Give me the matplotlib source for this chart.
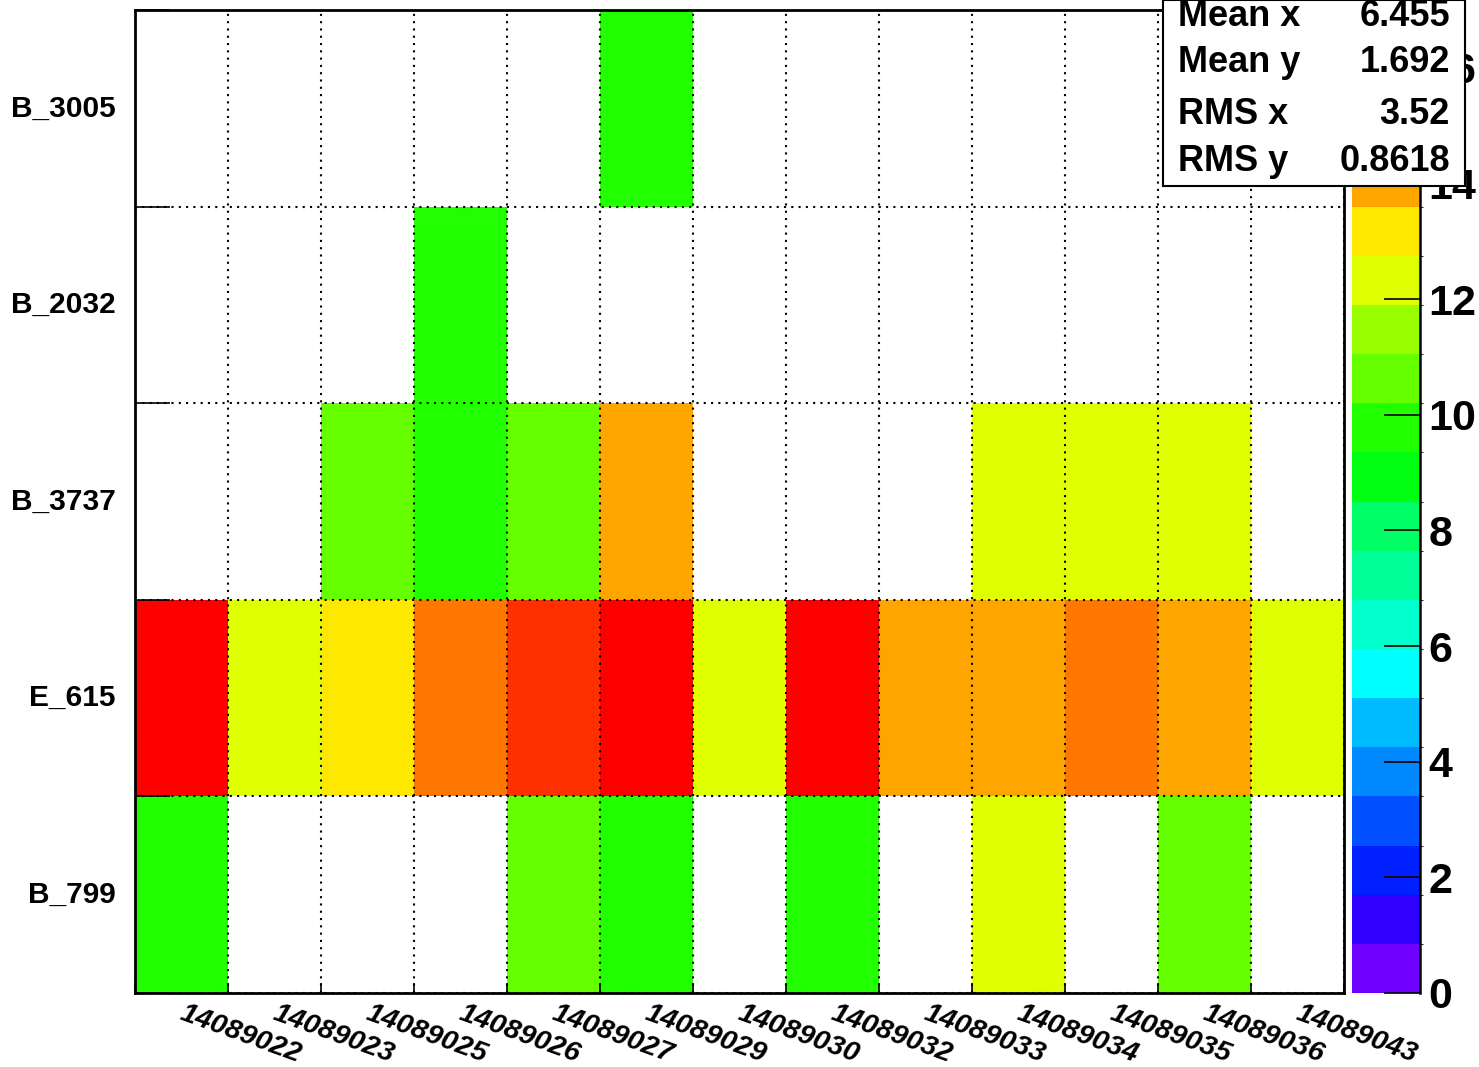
import numpy as np
import matplotlib
matplotlib.use('Agg')
import matplotlib.pyplot as plt
from matplotlib.colors import ListedColormap, BoundaryNorm

# run numbers (x bins) and chambers (y bins, bottom to top)
runs = ['14089022', '14089023', '14089025', '14089026', '14089027', '14089029', '14089030',
        '14089032', '14089033', '14089034', '14089035', '14089036', '14089043']
chambers = ['B_799', 'E_615', 'B_3737', 'B_2032', 'B_3005']

# bin contents per chamber, one value per run
counts_B_799 = [10, 0, 0, 0, 11, 10, 0, 10, 0, 12, 0, 11, 0]
counts_E_615 = [17, 12, 13, 15, 16, 17, 12, 17, 14, 14, 15, 14, 12]
counts_B_3737 = [0, 0, 11, 10, 11, 14, 0, 0, 0, 12, 12, 12, 0]
counts_B_2032 = [0, 0, 0, 10, 0, 0, 0, 0, 0, 0, 0, 0, 0]
counts_B_3005 = [0, 0, 0, 0, 0, 10, 0, 0, 0, 0, 0, 0, 0]

stat_names = ['Mean x', 'Mean y', 'RMS x', 'RMS y']
stat_values = ['6.455', '1.692', '3.52', '0.8618']

zmax = 17.0
n_levels = 20
cbar_ticks = [0, 2, 4, 6, 8, 10, 12, 14, 16]

# ROOT-like default palette, 20 contour levels
palette = ['#7000ff', '#3000ff', '#0020ff', '#0050ff', '#0088ff', '#00bbff', '#00ffff',
           '#00ffcc', '#00ff99', '#00ff66', '#00ff10', '#22ff00', '#66ff00', '#99ff00',
           '#e0ff00', '#ffe800', '#ffa500', '#ff7700', '#ff3000', '#ff0000']

plt.rcParams['font.family'] = ['Liberation Sans', 'DejaVu Sans']
plt.rcParams['font.weight'] = 'bold'

W, H = 1479, 1067
fig = plt.figure(figsize=(W / 100, H / 100), dpi=100)
fig.patch.set_facecolor('white')

ax = fig.add_axes([135 / W, 74 / H, 1209 / W, 983 / H])
cax = fig.add_axes([1352 / W, 74 / H, 68 / W, 983 / H])

Z = np.array([counts_B_799, counts_E_615, counts_B_3737, counts_B_2032, counts_B_3005], dtype=float)
Z = np.ma.masked_where(Z <= 0, Z)

cmap = ListedColormap(palette)
norm = BoundaryNorm(np.linspace(0, zmax, n_levels + 1), cmap.N)

mesh = ax.pcolormesh(np.arange(len(runs) + 1), np.arange(len(chambers) + 1), Z,
                     cmap=cmap, norm=norm, shading='flat', zorder=1)
ax.set_xlim(0, len(runs))
ax.set_ylim(0, len(chambers))

# grid and ticks at the bin edges, labels (invisible minor ticks) near bin centres
ax.set_xticks(np.arange(len(runs) + 1))
ax.set_yticks(np.arange(len(chambers) + 1))
ax.set_xticklabels([])
ax.set_yticklabels([])
ax.set_xticks(np.arange(len(runs)) + 0.54, minor=True)
ax.set_yticks(np.arange(len(chambers)) + 0.515, minor=True)
ax.set_xticklabels(runs, minor=True, rotation=-20, ha='left', va='top',
                   rotation_mode='anchor', fontsize=20.5, fontweight='bold',
                   fontstyle='italic')
ax.set_yticklabels(chambers, minor=True, fontsize=21.5, fontweight='bold')
ax.tick_params(axis='x', which='major', direction='in', length=7, width=1.2)
ax.tick_params(axis='y', which='major', direction='in', length=25, width=1.2)
ax.tick_params(axis='x', which='minor', length=0, pad=5)
ax.tick_params(axis='y', which='minor', length=0, pad=14)
ax.set_axisbelow(False)
ax.grid(which='major', color='black', linewidth=1.5, linestyle=(0, (1, 2.5)))
for sp in ax.spines.values():
    sp.set_linewidth(2)
    sp.set_zorder(5)

cbar = fig.colorbar(mesh, cax=cax, ticks=cbar_ticks)
cbar.outline.set_visible(False)
cax.axvline(1, color='black', lw=1.8, clip_on=False)
cax.tick_params(axis='y', direction='in', length=26, width=1.2, pad=6, labelsize=31)
for lab in cax.get_yticklabels():
    lab.set_fontweight('bold')

# stats box
sax = fig.add_axes([1163 / W, 881 / H, 302 / W, 186 / H])
sax.set_zorder(10)
sax.set_xlim(0, 302)
sax.set_ylim(186, 0)
sax.set_xticks([])
sax.set_yticks([])
sax.set_facecolor('white')
for sp in sax.spines.values():
    sp.set_linewidth(1.5)
row_y = [17, 63, 115, 162]
for name, val, yy in zip(stat_names, stat_values, row_y):
    sax.text(15, yy, name, ha='left', va='center', fontsize=26, fontweight='bold')
    sax.text(287, yy, val, ha='right', va='center', fontsize=26, fontweight='bold')

fig.savefig('out.png', dpi=100)
